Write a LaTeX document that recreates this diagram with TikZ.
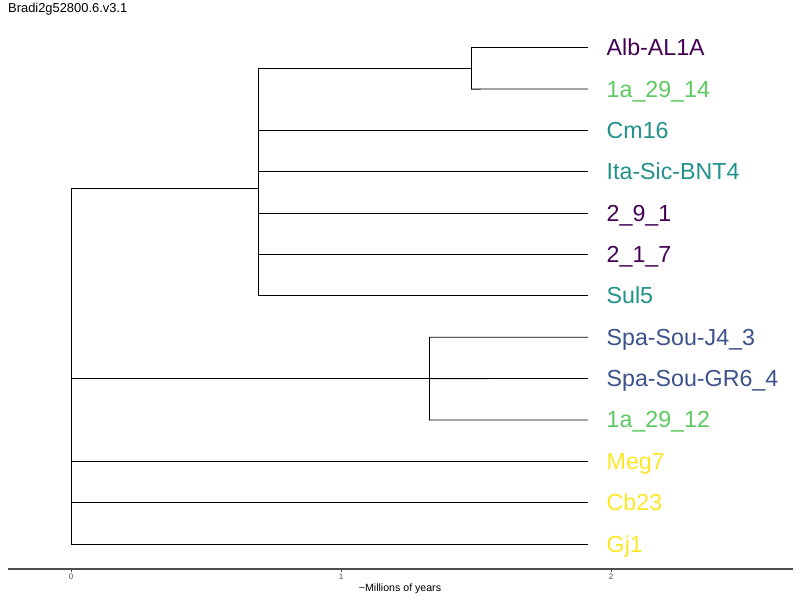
\documentclass[tikz,border=0pt]{standalone}
\usepackage{fontspec}
\setmainfont{Liberation Sans}
\definecolor{vpurple}{HTML}{440154}
\definecolor{vblue}{HTML}{3B528B}
\definecolor{vteal}{HTML}{21918C}
\definecolor{vgreen}{HTML}{5EC962}
\definecolor{vyellow}{HTML}{FDE725}
\definecolor{axisgray}{HTML}{4D4D4D}
\tikzset{
  branch/.style={draw=black, line width=0.8pt},
  leaflabel/.style={anchor=base west, inner sep=0pt, font=\fontsize{23.2}{24}\selectfont},
  ticklabel/.style={anchor=north, inner sep=0pt, text=axisgray, font=\fontsize{8}{9}\selectfont},
}
\begin{document}
\begin{tikzpicture}[x=1pt, y=-1pt]
\useasboundingbox (0,0) rectangle (800,600);
\fill[white] (0,0) rectangle (800,600);

% title
\node[anchor=west, inner sep=0pt, font=\fontsize{12.9}{14}\selectfont] (title) at (8,9) {Bradi2g52800.6.v3.1};

% leaf tips and labels
\foreach \name/\lab/\col [count=\i from 0] in {
  a/Alb-AL1A/vpurple, b/1a\_29\_14/vgreen, c/Cm16/vteal, d/Ita-Sic-BNT4/vteal,
  e/2\_9\_1/vpurple, f/2\_1\_7/vpurple, g/Sul5/vteal,
  h/Spa-Sou-J4\_3/vblue, k/Spa-Sou-GR6\_4/vblue, l/1a\_29\_12/vgreen,
  m/Meg7/vyellow, n/Cb23/vyellow, o/Gj1/vyellow} {
  \coordinate (tip-\name) at (588, {47.7+41.36*\i});
  \node[leaflabel, text=\col] (lab-\name) at (606.5, {47.7+41.36*\i+8}) {\lab};
}

% internal nodes
\coordinate (r-top) at (71,188);
\coordinate (r-bot) at (71,544);
\coordinate (c1) at (258,188);
\coordinate (c1-top) at (258,68.4);
\coordinate (c1-bot) at (258,296);
\coordinate (c11) at (471,68.4);
\coordinate (c11-top) at (471,47.7);
\coordinate (c11-bot) at (471,89.1);
\coordinate (c2) at (429,378.6);
\coordinate (c2-top) at (429,337.2);
\coordinate (c2-bot) at (429,420);
\coordinate (z-top) at (71,378.6);
\coordinate (z-bot) at (71,502.7);
\coordinate (y-top) at (71,414);
\coordinate (y-bot) at (71,461.4);

% root and zero-length internal branches
\draw[branch] (r-top) -- (r-bot);
\draw[branch] (z-top) -- (z-bot);
\draw[branch] (y-top) -- (y-bot);

% first clade
\draw[branch] (r-top) -- (c1);
\draw[branch] (c1-top) -- (c1-bot);
\draw[branch] (c1-top) -- (c11);
\draw[branch] (c11-top) -- (c11-bot);
\draw[branch] (c11-top) -- (tip-a);
\draw[branch] (c11-bot) -- (tip-b);
\foreach \n in {c,d,e,f,g} \draw[branch] (c1-top |- tip-\n) -- (tip-\n);

% second clade
\draw[branch] (z-top) -- (c2);
\draw[branch] (c2-top) -- (c2-bot);
\draw[branch] (c2-top) -- (tip-h);
\draw[branch] (c2) -- (tip-k);
\draw[branch] (c2-bot) -- (tip-l);

% remaining leaves on the root
\foreach \n in {m,n,o} \draw[branch] (r-top |- tip-\n) -- (tip-\n);

% time axis
\coordinate (ax-l) at (8,569);
\coordinate (ax-r) at (793,569);
\draw[axisgray, line width=1.2pt] (ax-l) -- (ax-r);
\foreach \x/\t in {71/0, 341/1, 611/2} {
  \coordinate (tk-\t) at (\x,569);
  \draw[axisgray, line width=0.6pt] (tk-\t) -- ++(0,3);
  \node[ticklabel] (tl-\t) at (\x,573.5) {\t};
}
\node[anchor=center, inner sep=0pt, font=\fontsize{10.6}{12}\selectfont] (axlab) at (400,589) {\textasciitilde Millions of years};
\end{tikzpicture}
\end{document}
